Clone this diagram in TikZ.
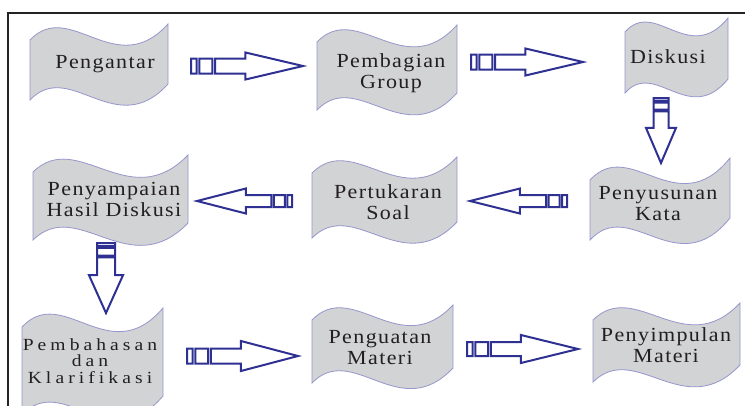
\documentclass[tikz,border=0pt]{standalone}
\usepackage{fontspec}
\setmainfont{Liberation Serif}
\newfontfamily\wavefont[LetterSpace=7,FakeStretch=1.1]{Liberation Serif}
\newfontfamily\wavefontwide[LetterSpace=24,FakeStretch=1.15]{Liberation Serif}
\usetikzlibrary{calc}
\definecolor{waveFill}{RGB}{209,211,212}
\definecolor{waveLine}{RGB}{150,150,205}
\definecolor{arrBlue}{RGB}{46,49,146}
\definecolor{txtCol}{RGB}{35,31,32}
\definecolor{frameCol}{RGB}{35,35,35}
\tikzset{
  wave/.style={fill=waveFill, draw=waveLine, line width=0.8pt},
  blk/.style={draw=arrBlue, line width=2pt, line join=miter, fill=white},
  lbl/.style={anchor=base, inner sep=0pt, text=txtCol, font=\wavefont\fontsize{20}{21}\selectfont},
  lblsmall/.style={anchor=base, inner sep=0pt, text=txtCol, font=\wavefontwide\fontsize{17}{16}\selectfont},
}
% wave outline: x, y (left top), width, left height, right rise, amplitude
\newcommand\waveshape[6]{%
  \path[wave] (#1,#2) .. controls (#1+0.29*#3,#2-#6) and (#1+0.62*#3,#2+#6) .. (#1+#3,#2-#5)
    -- (#1+#3,#2+#4-#5) .. controls (#1+0.62*#3,#2+#4+#6) and (#1+0.29*#3,#2+#4-#6) .. (#1,#2+#4) -- cycle;}
\newcommand\harrow[4]{%
  \draw[blk] let \p1=(#1), \p2=(#2), \n1={\x2-\x1} in
    (\x1,\y1-#3) rectangle (\x1+0.05*\n1,\y1+#3)
    (\x1+0.075*\n1,\y1-#3) rectangle (\x1+0.19*\n1,\y1+#3)
    (\x1+0.216*\n1,\y1-#3) -- (\x1+0.486*\n1,\y1-#3) -- (\x1+0.486*\n1,\y1-#4) -- (\x2,\y1)
    -- (\x1+0.486*\n1,\y1+#4) -- (\x1+0.486*\n1,\y1+#3) -- (\x1+0.216*\n1,\y1+#3) -- cycle;}
\newcommand\varrow[4]{%
  \draw[blk] let \p1=(#1), \p2=(#2), \n1={\y2-\y1} in
    (\x1-#3,\y1) rectangle (\x1+#3,\y1+0.046*\n1)
    (\x1-#3,\y1+0.07*\n1) rectangle (\x1+#3,\y1+0.18*\n1)
    (\x1-#3,\y1+0.205*\n1) -- (\x1-#3,\y1+0.46*\n1) -- (\x1-#4,\y1+0.46*\n1) -- (\x1,\y2)
    -- (\x1+#4,\y1+0.46*\n1) -- (\x1+#3,\y1+0.46*\n1) -- (\x1+#3,\y1+0.205*\n1) -- cycle;}
\begin{document}
\begin{tikzpicture}[x=1pt,y=-1pt]
\useasboundingbox (0,0) rectangle (745,405);
\clip (0,0) rectangle (745,405);
\fill[white] (0,0) rectangle (745,405);
\draw[frameCol, line width=2.5pt] (8,420) -- (8,13) -- (760,13);

% wave shapes
\waveshape{30}{40}{138}{60}{16}{42}
\waveshape{317}{42}{140}{68}{17}{42}
\waveshape{625}{32}{103}{61}{14}{34}
\waveshape{590}{180}{140}{60}{22}{44}
\waveshape{312}{173}{145}{65}{16}{42}
\waveshape{33}{172}{155}{68}{17}{44}
\waveshape{22}{327}{141}{88}{19}{44}
\waveshape{312}{320}{141}{63}{15}{42}
\waveshape{593}{320}{147}{62}{17}{42}

% labels
\node[lbl] (pengantar) at (105,68) {\begin{tabular}[t]{@{}c@{}}Pengantar\end{tabular}};
\node[lbl] (pembagian) at (391,67) {\begin{tabular}[t]{@{}c@{}}Pembagian\\Group\end{tabular}};
\node[lbl] (diskusi) at (668,63) {\begin{tabular}[t]{@{}c@{}}Diskusi\end{tabular}};
\node[lbl] (penyusunan) at (658,199) {\begin{tabular}[t]{@{}c@{}}Penyusunan\\Kata\end{tabular}};
\node[lbl] (pertukaran) at (388,198) {\begin{tabular}[t]{@{}c@{}}Pertukaran\\Soal\end{tabular}};
\node[lbl] (penyampaian) at (114,195) {\begin{tabular}[t]{@{}c@{}}Penyampaian\\Hasil Diskusi\end{tabular}};
\node[lblsmall] (pembahasan) at (90,350) {\begin{tabular}[t]{@{}c@{}}Pembahasan\\dan\\Klarifikasi\end{tabular}};
\node[lbl] (penguatan) at (380,343) {\begin{tabular}[t]{@{}c@{}}Penguatan\\Materi\end{tabular}};
\node[lbl] (penyimpulan) at (666,341) {\begin{tabular}[t]{@{}c@{}}Penyimpulan\\Materi\end{tabular}};

% arrow end points
\coordinate (a1t) at (191,66);  \coordinate (a1h) at (303,66);
\coordinate (a2t) at (471,62);  \coordinate (a2h) at (583,62);
\coordinate (a3t) at (661,98);  \coordinate (a3h) at (661,163);
\coordinate (a4t) at (567,201); \coordinate (a4h) at (470,201);
\coordinate (a5t) at (292,201); \coordinate (a5h) at (197,201);
\coordinate (a6t) at (106,243); \coordinate (a6h) at (106,313);
\coordinate (a7t) at (187,356); \coordinate (a7h) at (298,356);
\coordinate (a8t) at (467,349); \coordinate (a8h) at (578,349);

\harrow{a1t}{a1h}{7.5pt}{13.5pt}
\harrow{a2t}{a2h}{7.5pt}{13.5pt}
\varrow{a3t}{a3h}{7.5pt}{15pt}
\harrow{a4t}{a4h}{6pt}{12.5pt}
\harrow{a5t}{a5h}{6pt}{12.5pt}
\varrow{a6t}{a6h}{9pt}{17pt}
\harrow{a7t}{a7h}{7.5pt}{15pt}
\harrow{a8t}{a8h}{7pt}{14pt}
\end{tikzpicture}
\end{document}
